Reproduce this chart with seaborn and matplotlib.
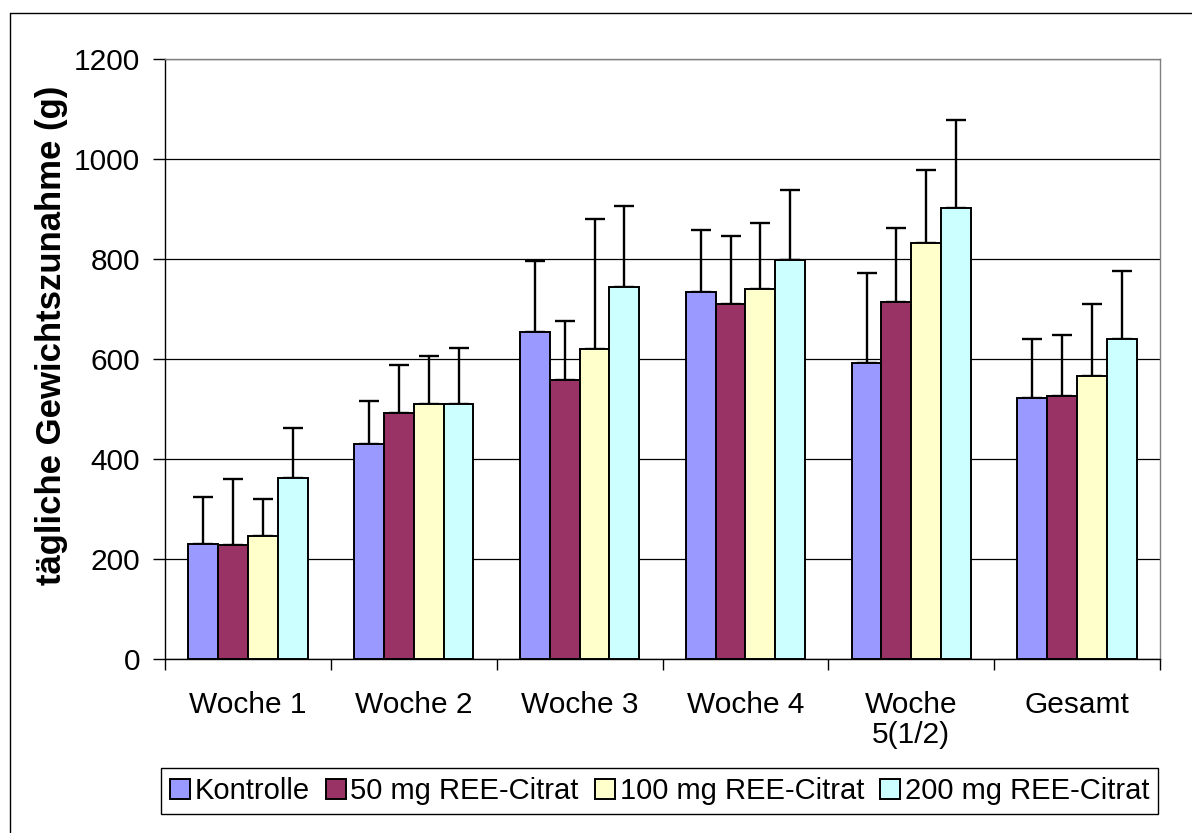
import pandas as pd
import matplotlib.pyplot as plt
import seaborn as sns
from matplotlib.lines import Line2D


categories = ["Woche 1", "Woche 2", "Woche 3", "Woche 4", "Woche\n5(1/2)", "Gesamt"]
series = ["Kontrolle", "50 mg REE-Citrat", "100 mg REE-Citrat", "200 mg REE-Citrat"]
colors = ["#9999FF", "#993366", "#FFFFCC", "#CCFFFF"]

# mittlere tägliche Zunahme (g) und Standardabweichung (nur nach oben gezeichnet)
kontrolle = [230, 429, 654, 734, 591, 521]
kontrolle_sd = [93, 86, 141, 123, 181, 118]
mg50 = [227, 491, 558, 709, 713, 525]
mg50_sd = [132, 97, 118, 137, 148, 122]
mg100 = [245, 510, 620, 739, 831, 565]
mg100_sd = [74, 96, 259, 133, 147, 145]
mg200 = [362, 510, 743, 797, 901, 639]
mg200_sd = [100, 111, 162, 141, 177, 137]

means = [kontrolle, mg50, mg100, mg200]
sds = [kontrolle_sd, mg50_sd, mg100_sd, mg200_sd]

rows = []
for name, vals in zip(series, means):
    for cat, v in zip(categories, vals):
        rows.append({"Woche": cat, "Gruppe": name, "Zunahme": v})
df = pd.DataFrame(rows)

sns.set_style("white")
plt.rcParams['font.family'] = ['Liberation Sans', 'DejaVu Sans']
plt.rcParams['text.color'] = 'black'
plt.rcParams['axes.labelcolor'] = 'black'
plt.rcParams['xtick.color'] = 'black'
plt.rcParams['ytick.color'] = 'black'

fig = plt.figure(figsize=(11.92, 8.33), dpi=100)
ax = fig.add_axes([0.1384, 0.2089, 0.8348, 0.7203])

sns.barplot(data=df, x="Woche", y="Zunahme", hue="Gruppe", order=categories,
            hue_order=series, palette=colors, saturation=1, width=0.72,
            edgecolor="black", linewidth=1.4, errorbar=None, legend=False, ax=ax,
            zorder=3)

bars = list(ax.containers)
for cont, sd in zip(bars, sds):
    xs = [p.get_x() + p.get_width() / 2 for p in cont.patches]
    ys = [p.get_height() for p in cont.patches]
    ax.errorbar(xs, ys, yerr=[[0] * len(sd), sd], fmt="none", ecolor="black",
                elinewidth=1.7, capsize=7, capthick=1.7, zorder=2)

ax.set_ylim(0, 1200)
ax.set_xlim(-0.5, 5.5)
ax.set_yticks(range(0, 1201, 200))
ax.yaxis.grid(True, color="black", linewidth=0.9)
ax.set_axisbelow(True)

ax.spines["left"].set_color("black")
ax.spines["bottom"].set_color("black")
ax.spines["top"].set_color("#808080")
ax.spines["right"].set_color("#808080")
for s in ax.spines.values():
    s.set_linewidth(1)

ax.tick_params(axis="y", direction="out", length=9, width=1, color="black",
               pad=9, labelsize=21.5, left=True, labelcolor="black")
ax.set_xticks([i + 0.5 for i in range(-1, 6)], minor=True)
ax.tick_params(axis="x", which="minor", direction="out", length=8, width=1,
               color="black", bottom=True)
ax.tick_params(axis="x", which="major", length=0, pad=23, labelsize=21.5,
               labelcolor="black")
for lbl in ax.get_xticklabels():
    lbl.set_linespacing(1.1)

ax.set_xlabel("")
ax.set_ylabel("tägliche Gewichtszunahme (g)", fontsize=25, fontweight="bold",
              color="black")
ax.yaxis.set_label_coords(-0.097, 0.54)

ax.legend(bars, series, loc="center", bbox_to_anchor=(0.5533, 0.0504),
          bbox_transform=fig.transFigure, ncol=4, fontsize=21, frameon=True,
          fancybox=False, edgecolor="black", framealpha=1, handlelength=0.7,
          handleheight=0.7, handletextpad=0.15, columnspacing=0.55,
          borderpad=0.3, borderaxespad=0)
ax.get_legend().get_frame().set_linewidth(1)

# Rahmen um das Diagramm
fig.add_artist(Line2D([0.0084, 0.0084], [0.0, 0.9844], color="black", linewidth=1,
                      transform=fig.transFigure))
fig.add_artist(Line2D([0.0084, 1.0], [0.9844, 0.9844], color="black", linewidth=1,
                      transform=fig.transFigure))

fig.savefig("out.png", dpi=100)
